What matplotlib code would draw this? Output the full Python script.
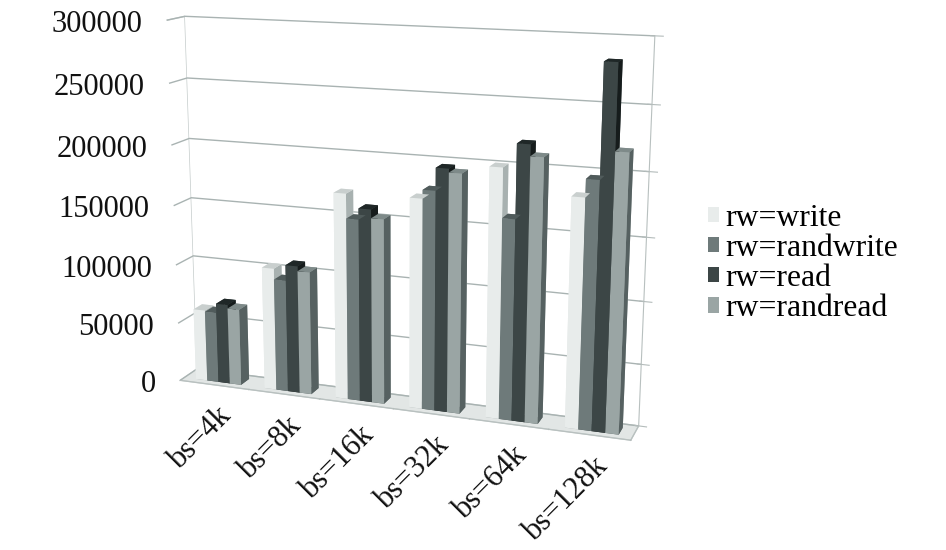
import numpy as np
import matplotlib
matplotlib.use('Agg')
import matplotlib.pyplot as plt
from matplotlib.patches import Patch
from mpl_toolkits.mplot3d import proj3d

categories = ['bs=4k', 'bs=8k', 'bs=16k', 'bs=32k', 'bs=64k', 'bs=128k']
write = [61000, 103000, 170000, 171000, 200000, 182000]
randwrite = [60000, 94000, 150000, 178000, 161000, 196000]
read = [68000, 107000, 159000, 196000, 219000, 283000]
randread = [65000, 103000, 152000, 193000, 210000, 218000]
z_ticks = [0, 50000, 100000, 150000, 200000, 250000, 300000]

series = [write, randwrite, read, randread]
names = ['rw=write', 'rw=randwrite', 'rw=read', 'rw=randread']
front_colors = ['#E8ECEB', '#6E7A7A', '#3C4646', '#9AA5A4']
top_colors = ['#C9CFCE', '#505B5B', '#1F2727', '#7E8A89']
side_colors = ['#A8B1B0', '#465050', '#161C1C', '#566161']

plt.rcParams['font.family'] = ['Liberation Serif', 'DejaVu Serif']

fig = plt.figure(figsize=(9.46, 5.5), dpi=100)
ax = fig.add_axes([0.025, 0.085, 0.78, 1.0], projection='3d', computed_zorder=False)
ax.view_init(elev=14, azim=-70, roll=0)
ax.set_proj_type('persp', focal_length=0.5)
ax.set_box_aspect((1.0, 0.08, 0.79), zoom=1.1)

bar_w = 0.165
depth = 0.5
xs, zs, cols = [], [], []
for s, vals in enumerate(series):
    for c, v in enumerate(vals):
        xs.append(c + 0.17 + s * bar_w)
        zs.append(v)
        # faces: bottom, top, front, back, left, right
        cols += [side_colors[s], top_colors[s], front_colors[s],
                 front_colors[s], front_colors[s], side_colors[s]]
n = len(xs)
ax.bar3d(xs, np.full(n, 0.25), np.zeros(n), bar_w, depth, zs, color=cols, shade=False)

ax.set_xlim(0, len(categories))
ax.set_ylim(0, 1)
ax.set_zlim(0, 300000)
ax.set_xticks(np.arange(len(categories) + 1))
ax.set_xticklabels([])
ax.set_yticks([])
ax.set_zticks(z_ticks)
ax.set_zticklabels([])
ax.tick_params(axis='both', color='#B4BCBB')
ax.tick_params(axis='z', color='#B4BCBB')

ax.xaxis.set_pane_color('#FFFFFF')
ax.yaxis.set_pane_color('#FFFFFF')
ax.zaxis.set_pane_color('#E2E6E5')
ax.xaxis.pane.set_edgecolor('#C5CCCB')
ax.yaxis.pane.set_edgecolor('#FFFFFF')
ax.zaxis.pane.set_edgecolor('#C5CCCB')
for axis in (ax.xaxis, ax.yaxis, ax.zaxis):
    axis.line.set_color('#B8C0BF')
ax.grid(True)
for axis in (ax.xaxis, ax.yaxis):
    axis._axinfo['grid']['linewidth'] = 0
ax.zaxis._axinfo['grid'].update(color='#A9B3B2', linewidth=1.0)

# labels go through the 3d projection so they follow the axes, mplot3d ignores rotation otherwise
proj = ax.get_proj()
for c, name in enumerate(categories):
    px, py, _ = proj3d.proj_transform(c + 0.62, 0, 0, proj)
    ax.annotate(name, (px, py), xytext=(-6, -16), textcoords='offset pixels',
                rotation=45, rotation_mode='anchor', ha='right', va='top',
                fontsize=22, color='#111111')
for v in z_ticks:
    px, py, _ = proj3d.proj_transform(0, 0, v, proj)
    ax.annotate(str(v), (px, py), xytext=(-24, -4), textcoords='offset pixels',
                ha='right', va='center', fontsize=22, color='#111111')

handles = [Patch(facecolor=fc, edgecolor='none') for fc in front_colors]
fig.legend(handles, names, loc='upper left', bbox_to_anchor=(0.748, 0.63), frameon=False,
           fontsize=22.8, handlelength=0.36, handleheight=0.36, handletextpad=0.19,
           labelspacing=0.04, borderpad=0, borderaxespad=0)

fig.savefig('out.png', dpi=100)
